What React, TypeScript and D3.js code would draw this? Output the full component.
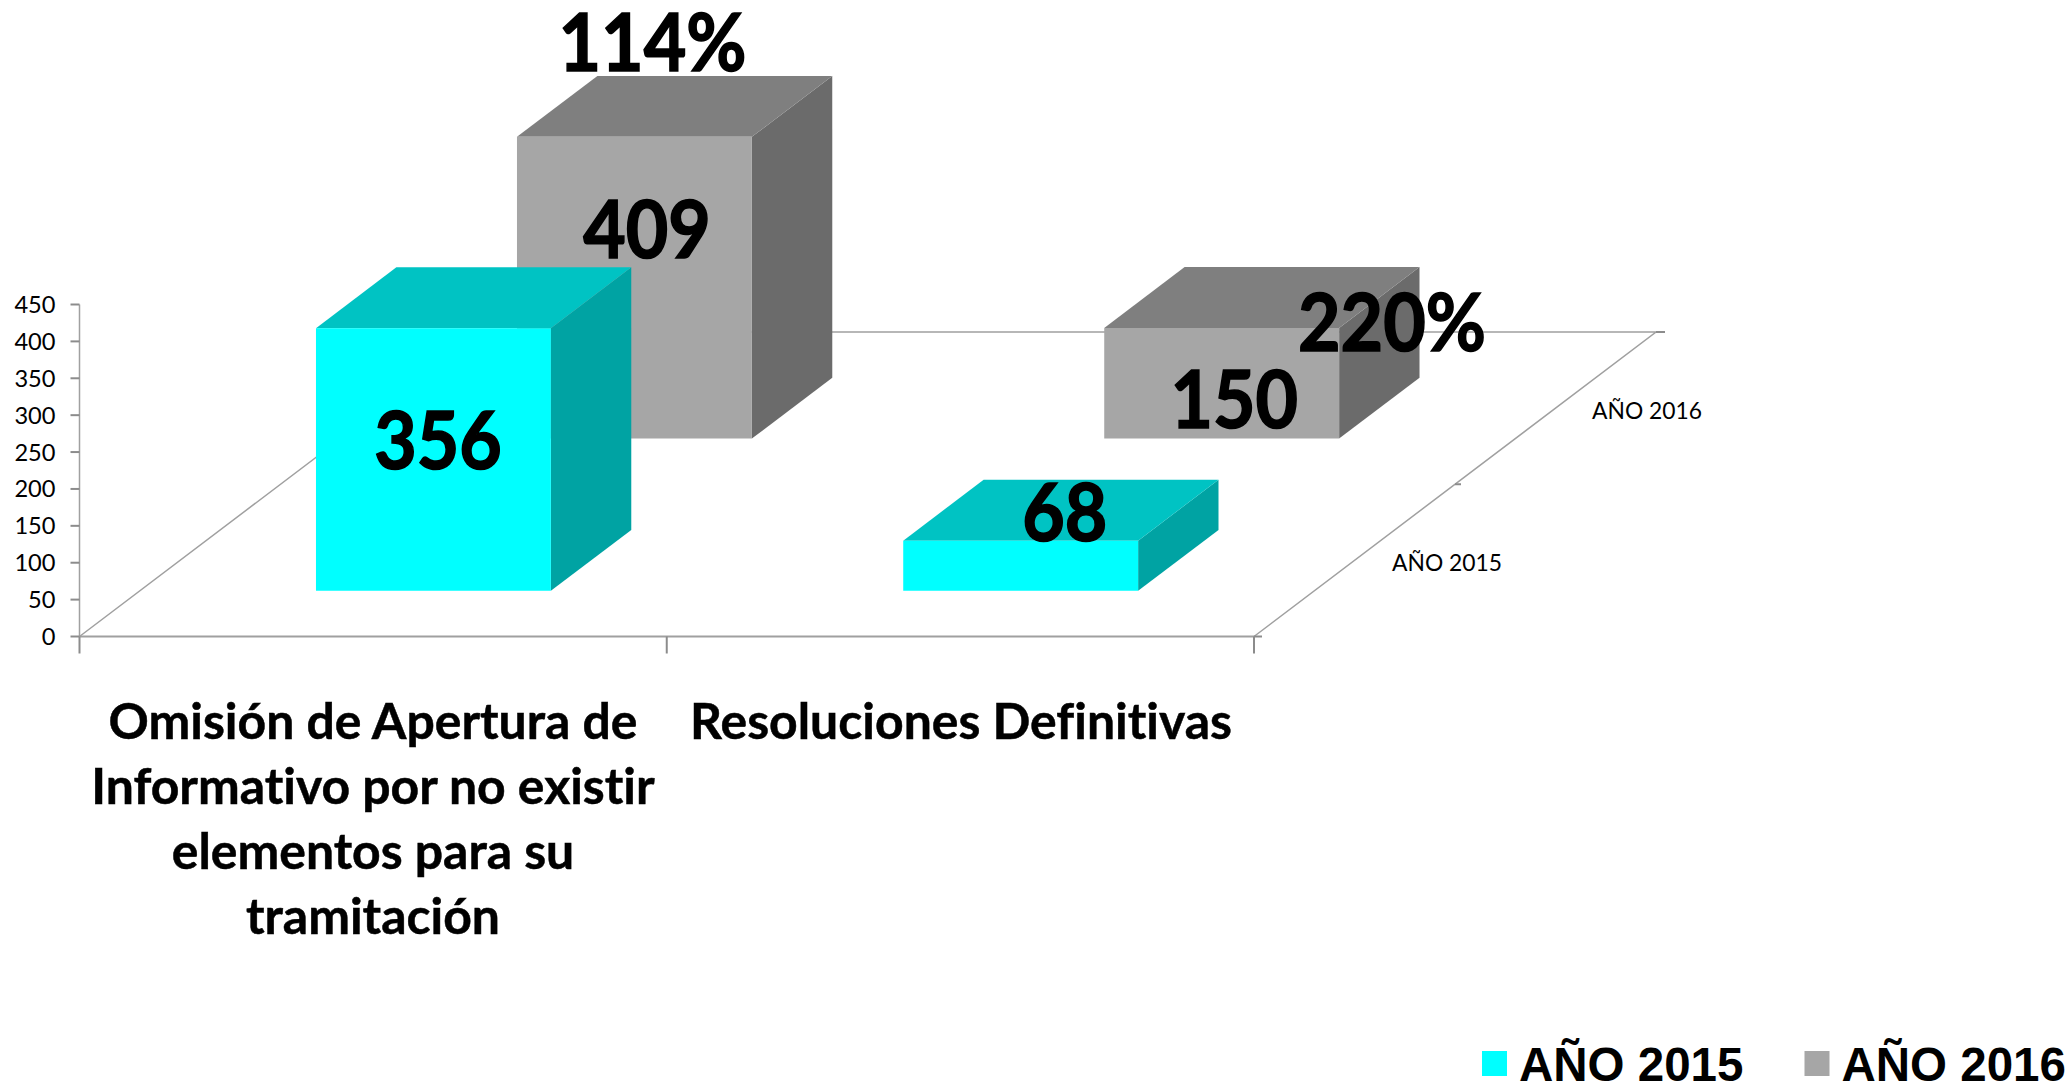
import React from "react";
import * as d3 from "d3";

const categories = ["Omisión de Apertura de Informativo por no existir elementos para su tramitación", "Resoluciones Definitivas"];
const categoryLines = [["Omisión de Apertura de", "Informativo por no existir", "elementos para su", "tramitación"], ["Resoluciones Definitivas"]];
const seriesNames = ["AÑO 2015", "AÑO 2016"];
const values2015 = [356, 68];
const values2016 = [409, 150];
const percentLabels = ["114%", "220%"];
const yTicks = [0, 50, 100, 150, 200, 250, 300, 350, 400, 450];

const W = 2069, H = 1084;
const originX = 79.5, originY = 636.5;
const floorW = 1174.5, depthX = 402, depthY = 304.5;
const FONT = "Lato, sans-serif";
const AXIS = "#8c8c8c";

const colors: Record<string, { front: string; top: string; side: string }> = {
  "AÑO 2015": { front: "#00ffff", top: "#00c3c3", side: "#00a3a3" },
  "AÑO 2016": { front: "#a6a6a6", top: "#7f7f7f", side: "#6b6b6b" },
};

const xBand = d3.scaleBand<string>().domain(categories).range([0, floorW]).paddingInner(0.6).paddingOuter(0.3);
const zBand = d3.scaleBand<string>().domain(seriesNames).range([0, 1]).paddingInner(0.6).paddingOuter(0.3);
const yScale = d3.scaleLinear().domain([0, 450]).range([0, 332]);

const project = (u: number, t: number, v: number): [number, number] => [
  originX + u + t * depthX,
  originY - t * depthY - yScale(v),
];
const poly = (pts: [number, number][]) => d3.line()(pts)! + "Z";

const seriesValues = [values2015, values2016];

// label placement relative to the centre of each bar's front face
const valueOffset = [
  [{ dx: 4.5, y: 468.5 }, { dx: 44, y: 541 }],
  [{ dx: 12.5, y: 257.5 }, { dx: 12.5, y: 428 }],
];
const percentPlace = [{ x: 652.5, y: 71 }, { x: 1392, y: 351 }];
const digitWidth = 42.5;
const tickDigitWidth = 13.7;

function Bar({ cat, ser, value }: { cat: string; ser: string; value: number }) {
  const u0 = xBand(cat)!, u1 = u0 + xBand.bandwidth();
  const t0 = zBand(ser)!, t1 = t0 + zBand.bandwidth();
  const c = colors[ser];
  return (
    <g>
      <path d={poly([project(u1, t0, 0), project(u1, t1, 0), project(u1, t1, value), project(u1, t0, value)])} fill={c.side} />
      <path d={poly([project(u0, t0, value), project(u1, t0, value), project(u1, t1, value), project(u0, t1, value)])} fill={c.top} />
      <path d={poly([project(u0, t0, 0), project(u1, t0, 0), project(u1, t0, value), project(u0, t0, value)])} fill={c.front} />
    </g>
  );
}

export default function App() {
  const frontLeft = project(0, 0, 0), frontRight = project(floorW, 0, 0);
  const backLeft = project(0, 1, 0), backRight = project(floorW, 1, 0);
  const midDepth = project(floorW, 0.5, 0);
  const bars = [1, 0].flatMap((s) => categories.map((cat, i) => ({ cat, ser: seriesNames[s], value: seriesValues[s][i] })));
  return (
    <svg width={W} height={H} viewBox={`0 0 ${W} ${H}`} style={{ position: "absolute", left: 0, top: 0, background: "#fff", fontVariantLigatures: "none" }}>
      {/* floor */}
      <g fill="none">
        <path d={d3.line()([frontLeft, backLeft, backRight, frontRight])!} stroke="#a0a0a0" strokeWidth={1.5} />
        <line x1={backRight[0]} y1={backRight[1]} x2={backRight[0] + 9} y2={backRight[1]} stroke={AXIS} strokeWidth={2} />
        <line x1={midDepth[0]} y1={midDepth[1]} x2={midDepth[0] + 6} y2={midDepth[1]} stroke={AXIS} strokeWidth={2} />
        <line x1={frontRight[0]} y1={frontRight[1]} x2={frontRight[0] + 8} y2={frontRight[1]} stroke={AXIS} strokeWidth={2} />
      </g>
      {/* axes */}
      <line x1={originX} y1={originY} x2={originX} y2={originY - yScale(450)} stroke="#a0a0a0" strokeWidth={1.5} />
      <line x1={frontLeft[0]} y1={originY} x2={frontRight[0]} y2={originY} stroke="#a0a0a0" strokeWidth={2} />
      {[0, 1, 2].map((i) => {
        const x = originX + (i * floorW) / 2;
        return <line key={i} x1={x} y1={originY} x2={x} y2={originY + 17} stroke={AXIS} strokeWidth={2} />;
      })}
      {yTicks.map((t) => (
        <g key={t}>
          <line x1={originX - 9} x2={originX} y1={originY - yScale(t)} y2={originY - yScale(t)} stroke={AXIS} strokeWidth={2} />
          <text x={originX - 24} y={originY - yScale(t) + 8.5} textAnchor="end" fontFamily={FONT} fontSize={24} fill="#000"
            textLength={String(t).length * tickDigitWidth} lengthAdjust="spacingAndGlyphs">{t}</text>
        </g>
      ))}
      {/* bars */}
      {bars.map((b) => <Bar key={b.cat + b.ser} {...b} />)}
      {/* depth labels */}
      <text x={1392} y={570.5} fontFamily={FONT} fontSize={24} fill="#000" textLength={110} lengthAdjust="spacingAndGlyphs">{seriesNames[0]}</text>
      <text x={1592} y={418.5} fontFamily={FONT} fontSize={24} fill="#000" textLength={110} lengthAdjust="spacingAndGlyphs">{seriesNames[1]}</text>
      {/* value labels */}
      {seriesNames.map((ser, s) =>
        categories.map((cat, i) => {
          const u = xBand(cat)! + xBand.bandwidth() / 2;
          const [cx] = project(u, zBand(ser)!, 0);
          const o = valueOffset[s][i];
          const label = String(seriesValues[s][i]);
          return (
            <text key={ser + cat} x={cx + o.dx} y={o.y} textAnchor="middle" fontFamily={FONT} fontWeight={700} fontSize={80} fill="#000"
              stroke="#000" strokeWidth={1.6} textLength={label.length * digitWidth} lengthAdjust="spacingAndGlyphs">
              {label}
            </text>
          );
        })
      )}
      {percentLabels.map((p, i) => (
        <text key={p} x={percentPlace[i].x} y={percentPlace[i].y} textAnchor="middle" fontFamily={FONT} fontWeight={700} fontSize={80} fill="#000"
          stroke="#000" strokeWidth={1.6} textLength={188} lengthAdjust="spacingAndGlyphs">{p}</text>
      ))}
      {/* category labels */}
      {categoryLines.map((lines, i) => (
        <text key={i} fontFamily={FONT} fontWeight={700} fontSize={49.9} fill="#000" stroke="#000" strokeWidth={0.5} textAnchor="middle">
          {lines.map((l, j) => (
            <tspan key={j} x={i === 0 ? 373 : 961} y={739 + j * 65}>{l}</tspan>
          ))}
        </text>
      ))}
      {/* legend */}
      {seriesNames.map((s, i) => {
        const lx = [1482, 1804.5][i];
        return (
          <g key={s}>
            <rect x={lx} y={1051} width={25} height={25} fill={colors[s].front} />
            <text x={lx + 37} y={1080.5} fontFamily="'Liberation Sans', Arial, sans-serif" fontWeight={700} fontSize={47.5} fill="#000">{s}</text>
          </g>
        );
      })}
    </svg>
  );
}
